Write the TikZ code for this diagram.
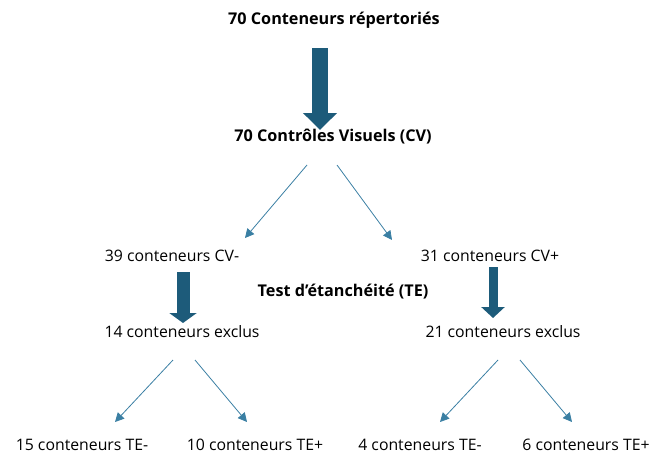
\documentclass[tikz,border=0pt]{standalone}
\usepackage{fontspec}
\setmainfont{Open Sans}
\usepackage{xcolor}
\usepackage{tikz}
\usetikzlibrary{arrows.meta,positioning,calc}

\definecolor{darkteal}{HTML}{1D5B7A}
\definecolor{thinteal}{HTML}{3A7FA3}

\begin{document}
\begin{tikzpicture}[x=1pt, y=-1pt, >=Stealth,
    txt/.style={inner sep=0pt, font=\fontsize{15.8}{18}\selectfont},
    head/.style={txt, font=\fontsize{16.2}{18}\selectfont\bfseries},
    split/.style={->, thinteal, line width=0.8pt, >={Triangle[length=9pt,width=9pt]}},
    bigarrow/.style args={#1/#2/#3}{darkteal, line width=#1, -{Triangle[length=#2,width=#3]}}]
  \useasboundingbox (0,0) rectangle (653,455);

  % Levels
  \node[head] (total) at (334,20) {70 Conteneurs répertoriés};
  \node[head] (cv) at (333,137) {70 Contrôles Visuels (CV)};
  \node[txt] (cvneg) at (172,256) {39 conteneurs CV-};
  \node[txt] (cvpos) at (490,256) {31 conteneurs CV+};
  \node[head] (te) at (343,292) {Test d’étanchéité (TE)};
  \node[txt] (exneg) at (182,332) {14 conteneurs exclus};
  \node[txt] (expos) at (503,332) {21 conteneurs exclus};
  \node[txt] (teA) at (82,445) {15 conteneurs TE-};
  \node[txt] (teB) at (255,445) {10 conteneurs TE+};
  \node[txt] (teC) at (420,445) {4 conteneurs TE-};
  \node[txt] (teD) at (586,445) {6 conteneurs TE+};

  % Big arrows
  \draw[bigarrow=16pt/17pt/33pt] ($(total)+(-14,28)$) -- ($(cv)+(-13,-7)$);
  \draw[bigarrow=13pt/10pt/27pt] ($(cvneg)+(11,16)$) -- ($(exneg)+(1,-9)$);
  \draw[bigarrow=9pt/11pt/23pt] ($(cvpos)+(3,11)$) -- ($(expos)+(-10,-14)$);

  % Splits
  \draw[split] ($(cv)+(-26,28)$) -- ($(cvneg)+(73,-18)$);
  \draw[split] ($(cv)+(4,28)$) -- ($(cvpos)+(-98,-16)$);
  \draw[split] ($(exneg)+(-9,28)$) -- ($(teA)+(33,-23)$);
  \draw[split] ($(exneg)+(13,28)$) -- ($(teB)+(-8,-23)$);
  \draw[split] ($(expos)+(-5,28)$) -- ($(teC)+(20,-23)$);
  \draw[split] ($(expos)+(17,28)$) -- ($(teD)+(-14,-23)$);
\end{tikzpicture}
\end{document}
